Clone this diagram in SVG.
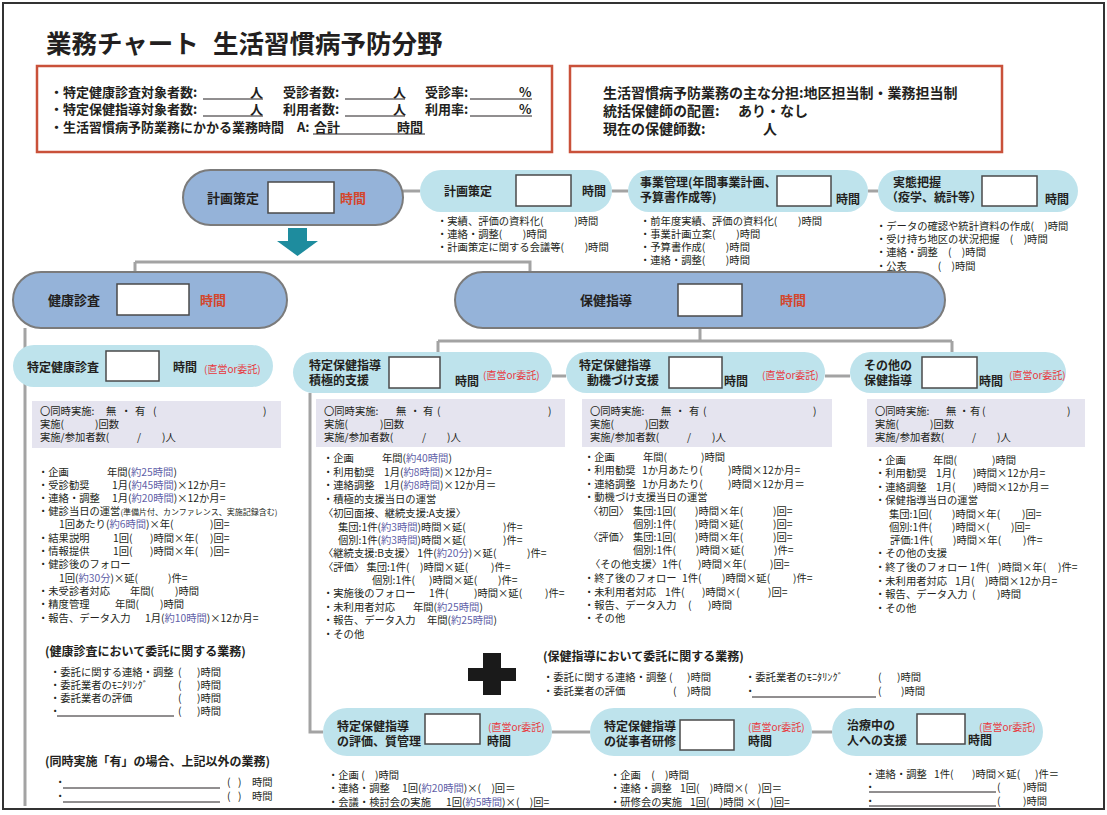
<svg xmlns="http://www.w3.org/2000/svg" width="1107" height="815" viewBox="0 0 1107 815">
<style>
text{font-family:"Noto Sans CJK JP","Noto Sans CJK SC",sans-serif;fill:#231f20;font-size:10.3px}
.b{font-weight:bold;font-size:12px}
.m{font-weight:bold;font-size:13px}
.red{fill:#d4462b}
.rs{fill:#e8383d;font-size:10px}
.bl{fill:#5f5fa8}
.sm{font-size:8px}
.main{fill:#95b3d9;stroke:#7b7b7b;stroke-width:2}
.sub{fill:#bee3ec}
.wb{fill:#fff;stroke:#4a4a4a;stroke-width:1.5}
.gb{fill:#e5e4ef}
.con{stroke:#a3a3a3;stroke-width:3;fill:none}
.ul{stroke:#231f20;stroke-width:1}
.rb{fill:#fff;stroke:#c9513a;stroke-width:2.5}
.i2{font-size:14px;font-weight:bold}
</style>
<rect x="0" y="0" width="1107" height="815" fill="#fff"/>
<rect x="3" y="3" width="1101" height="806" fill="none" stroke="#333" stroke-width="2"/>

<text x="46" y="53" style="font-size:25.5px;font-weight:bold">業務チャート<tspan x="213">生活習慣病予防分野</tspan></text>

<g id="info1">
<rect class="rb" x="37" y="66" width="515" height="86"/>
<text class="m" x="50" y="97">・特定健康診査対象者数:<tspan x="250">人</tspan><tspan x="283">受診者数:</tspan><tspan x="393">人</tspan><tspan x="425">受診率:</tspan><tspan x="519">%</tspan></text>
<text class="m" x="50" y="114">・特定保健指導対象者数:<tspan x="250">人</tspan><tspan x="283">利用者数:</tspan><tspan x="393">人</tspan><tspan x="425">利用率:</tspan><tspan x="519">%</tspan></text>
<text class="m" x="50" y="132">・生活習慣病予防業務にかかる業務時間　A:<tspan x="314">合計</tspan><tspan x="397">時間</tspan></text>
<path class="ul" d="M203 99H263M345 99H405M470 99H532M203 116H263M345 116H405M470 116H532M313 134H425"/>
</g>

<g id="info2">
<rect class="rb" x="570" y="66" width="432" height="86"/>
<text class="i2" x="603" y="98">生活習慣病予防業務の主な分担:地区担当制・業務担当制</text>
<text class="i2" x="603" y="116">統括保健師の配置:<tspan x="738">あり・なし</tspan></text>
<text class="i2" x="603" y="134">現在の保健師数:<tspan x="763">人</tspan></text>
</g>

<g id="connectors">
<path class="con" d="M403 191H420M612 191H628M868 191H878"/>
<path class="con" d="M135 262H530V272M135 262V272"/>
<path class="con" d="M25 328V806"/>
<path class="con" d="M700 328V341M438 341H952M438 341V352M952 341V352"/>
<path class="con" d="M552 376H566M825 376H850"/>
<path class="con" d="M310 393V732H323M552 732H590M812 732H832"/>
</g>

<g id="arrow">
<polygon points="288,228 307,228 307,241 318,241 297.5,256 277,241 288,241" fill="#1e8c9e"/>
</g>

<g id="plan-main">
<rect class="main" x="183" y="170" width="220" height="55" rx="27.5"/>
<text class="m" x="207" y="203">計画策定</text>
<rect class="wb" x="268" y="182" width="66" height="31"/>
<text class="m red" x="340" y="203">時間</text>
</g>

<g id="plan-sub">
<rect class="sub" x="420" y="170" width="192" height="42" rx="21"/>
<text class="b" x="444" y="196">計画策定</text>
<rect class="wb" x="516" y="175" width="55" height="31"/>
<text class="b" x="582" y="196">時間</text>
<text x="437" y="225">・実績、評価の資料化(　　　)時間</text>
<text x="437" y="238">・連絡・調整(　　)時間</text>
<text x="437" y="251">・計画策定に関する会議等(　　)時間</text>
</g>

<g id="jigyo">
<rect class="sub" x="628" y="170" width="240" height="42" rx="21"/>
<text class="b" x="640" y="187">事業管理(年間事業計画、</text>
<text class="b" x="640" y="202">予算書作成等)</text>
<rect class="wb" x="777" y="176" width="54" height="30"/>
<text class="b" x="836" y="204">時間</text>
<text x="640" y="225">・前年度実績、評価の資料化(　　)時間</text>
<text x="640" y="238">・事業計画立案(　　)時間</text>
<text x="640" y="251">・予算書作成(　　)時間</text>
<text x="640" y="264">・連絡・調整(　　)時間</text>
</g>

<g id="jittai">
<rect class="sub" x="878" y="170" width="200" height="42" rx="21"/>
<text class="b" x="893" y="187">実態把握</text>
<text class="b" x="886" y="202">（疫学、統計等）</text>
<rect class="wb" x="982" y="176" width="55" height="30"/>
<text class="b" x="1045" y="204">時間</text>
<text x="876" y="230">・データの確認や統計資料の作成(　)時間</text>
<text x="876" y="243">・受け持ち地区の状況把握　(　)時間</text>
<text x="876" y="256">・連絡・調整　(　)時間</text>
<text x="876" y="270">・公表　　　(　)時間</text>
</g>

<g id="kenshin-main">
<rect class="main" x="13" y="272" width="274" height="56" rx="28"/>
<text class="m" x="48" y="305">健康診査</text>
<rect class="wb" x="117" y="284" width="72" height="31"/>
<text class="m red" x="200" y="305">時間</text>
</g>

<g id="hoken-main">
<rect class="main" x="455" y="272" width="490" height="56" rx="28"/>
<text class="m" x="580" y="305">保健指導</text>
<rect class="wb" x="678" y="284" width="64" height="32"/>
<text class="m red" x="780" y="305">時間</text>
</g>

<g id="tokutei-kenshin">
<rect class="sub" x="13" y="345" width="260" height="42" rx="21"/>
<text class="b" x="27" y="372">特定健康診査</text>
<rect class="wb" x="106" y="351" width="53" height="30"/>
<text class="b" x="173" y="372">時間</text>
<text class="rs" x="204" y="373">(直営or委託)</text>
<rect class="gb" x="32" y="401" width="249" height="47"/>
<text x="40" y="415">〇同時実施:<tspan x="106">無</tspan><tspan x="121">・</tspan><tspan x="135">有</tspan><tspan x="153">(</tspan><tspan x="263">)</tspan></text>
<text x="40" y="428">実施(<tspan x="95">)回数</tspan></text>
<text x="40" y="441">実施/参加者数(<tspan x="137">/</tspan><tspan x="162">)人</tspan></text>
<text x="38" y="476">・企画<tspan x="107">年間(<tspan class="bl">約25時間</tspan>)</tspan></text>
<text x="38" y="489">・受診勧奨<tspan x="112">1月(<tspan class="bl">約45時間</tspan>)×12か月=</tspan></text>
<text x="38" y="502">・連絡・調整<tspan x="112">1月(<tspan class="bl">約20時間</tspan>)×12か月=</tspan></text>
<text x="38" y="515">・健診当日の運営<tspan class="sm">(準備片付、カンファレンス、実施記録含む)</tspan></text>
<text x="59" y="528">1回あたり(<tspan class="bl">約6時間</tspan>)×年(<tspan x="210">)回=</tspan></text>
<text x="38" y="542">・結果説明<tspan x="113">1回(</tspan><tspan x="150">)時間×年(</tspan><tspan x="210">)回=</tspan></text>
<text x="38" y="555">・情報提供<tspan x="113">1回(</tspan><tspan x="150">)時間×年(</tspan><tspan x="210">)回=</tspan></text>
<text x="38" y="568">・健診後のフォロー</text>
<text x="59" y="582">1回(<tspan class="bl">約30分</tspan>)×延(<tspan x="168">)件=</tspan></text>
<text x="38" y="595">・未受診者対応<tspan x="130">年間(</tspan><tspan x="175">)時間</tspan></text>
<text x="38" y="608">・精度管理<tspan x="115">年間(</tspan><tspan x="160">)時間</tspan></text>
<text x="38" y="622">・報告、データ入力<tspan x="145">1月(<tspan class="bl">約10時間</tspan>)×12か月=</tspan></text>
<text class="b" x="45" y="656">(健康診査において委託に関する業務)</text>
<text x="50" y="676">・委託に関する連絡・調整<tspan x="178">(</tspan><tspan x="197">)時間</tspan></text>
<text x="50" y="689">・委託業者のﾓﾆﾀﾘﾝｸﾞ<tspan x="178">(</tspan><tspan x="197">)時間</tspan></text>
<text x="50" y="702">・委託業者の評価<tspan x="178">(</tspan><tspan x="197">)時間</tspan></text>
<text x="50" y="715">・<tspan x="178">(</tspan><tspan x="197">)時間</tspan></text>
<path class="ul" d="M57 716H174"/>
<text class="b" x="45" y="766">(同時実施「有」の場合、上記以外の業務)</text>
<text x="55" y="786">・<tspan x="227">(</tspan><tspan x="238">)</tspan><tspan x="252">時間</tspan></text>
<text x="55" y="800">・<tspan x="227">(</tspan><tspan x="238">)</tspan><tspan x="252">時間</tspan></text>
<path class="ul" d="M63 788H220M63 802H220"/>
</g>

<g id="sekkyoku">
<rect class="sub" x="293" y="352" width="259" height="41" rx="20.5"/>
<text class="b" x="309" y="370">特定保健指導</text>
<text class="b" x="309" y="385">積極的支援</text>
<rect class="wb" x="389" y="357" width="51" height="31"/>
<text class="b" x="455" y="386">時間</text>
<text class="rs" x="483" y="379">(直営or委託)</text>
<rect class="gb" x="316" y="399" width="249" height="48"/>
<text x="324" y="415">〇同時実施:<tspan x="396">無</tspan><tspan x="410">・</tspan><tspan x="423">有</tspan><tspan x="437">(</tspan><tspan x="548">)</tspan></text>
<text x="324" y="428">実施(<tspan x="380">)回数</tspan></text>
<text x="324" y="441">実施/参加者数(<tspan x="422">/</tspan><tspan x="447">)人</tspan></text>
<text x="323" y="462">・企画<tspan x="382">年間(<tspan class="bl">約40時間</tspan>)</tspan></text>
<text x="323" y="476">・利用勧奨<tspan x="384">1月(<tspan class="bl">約8時間</tspan>)×12か月=</tspan></text>
<text x="323" y="489">・連絡調整<tspan x="384">1月(<tspan class="bl">約8時間</tspan>)×12か月＝</tspan></text>
<text x="323" y="503">・積極的支援当日の運営</text>
<text x="323" y="517">〈初回面接、継続支援:A支援〉</text>
<text x="338" y="531">集団:1件(<tspan class="bl">約3時間</tspan>)時間×延(<tspan x="503">)件=</tspan></text>
<text x="338" y="544">個別:1件(<tspan class="bl">約3時間</tspan>)時間×延(<tspan x="503">)件=</tspan></text>
<text x="323" y="557">〈継続支援:B支援〉 1件(<tspan class="bl">約20分</tspan>)×延(<tspan x="527">)件=</tspan></text>
<text x="323" y="571">〈評価〉 集団:1件(<tspan x="420">)時間×延(</tspan><tspan x="491">)件=</tspan></text>
<text x="372" y="584">個別:1件(<tspan x="429">)時間×延(</tspan><tspan x="498">)件=</tspan></text>
<text x="323" y="597">・実施後のフォロー<tspan x="429">1件(</tspan><tspan x="474">)時間×延(</tspan><tspan x="545">)件=</tspan></text>
<text x="323" y="611">・未利用者対応<tspan x="413">年間(<tspan class="bl">約25時間</tspan>)</tspan></text>
<text x="323" y="624">・報告、データ入力<tspan x="427">年間(<tspan class="bl">約25時間</tspan>)</tspan></text>
<text x="323" y="638">・その他</text>
</g>

<g id="doukiduke">
<rect class="sub" x="566" y="352" width="259" height="41" rx="20.5"/>
<text class="b" x="579" y="370">特定保健指導</text>
<text class="b" x="587" y="385">動機づけ支援</text>
<rect class="wb" x="669" y="357" width="53" height="31"/>
<text class="b" x="724" y="386">時間</text>
<text class="rs" x="762" y="379">(直営or委託)</text>
<rect class="gb" x="582" y="399" width="250" height="48"/>
<text x="590" y="415">〇同時実施:<tspan x="661">無</tspan><tspan x="675">・</tspan><tspan x="689">有</tspan><tspan x="703">(</tspan><tspan x="813">)</tspan></text>
<text x="590" y="428">実施(<tspan x="645">)回数</tspan></text>
<text x="590" y="441">実施/参加者数(<tspan x="687">/</tspan><tspan x="712">)人</tspan></text>
<text x="584" y="461">・企画<tspan x="643">年間(</tspan><tspan x="701">)時間</tspan></text>
<text x="584" y="474">・利用勧奨<tspan x="642">1か月あたり(</tspan><tspan x="728">)時間×12か月=</tspan></text>
<text x="584" y="488">・連絡調整<tspan x="642">1か月あたり(</tspan><tspan x="728">)時間×12か月＝</tspan></text>
<text x="584" y="501">・動機づけ支援当日の運営</text>
<text x="588" y="515">〈初回〉<tspan x="633">集団:1回(</tspan><tspan x="695">)時間×年(</tspan><tspan x="773">)回=</tspan></text>
<text x="633" y="528">個別:1件(<tspan x="695">)時間×延(</tspan><tspan x="773">)回=</tspan></text>
<text x="588" y="541">〈評価〉<tspan x="633">集団:1回(</tspan><tspan x="695">)時間×年(</tspan><tspan x="773">)回=</tspan></text>
<text x="633" y="554">個別:1件(<tspan x="696">)時間×延(</tspan><tspan x="774">)件=</tspan></text>
<text x="590" y="568">〈その他支援〉1件(<tspan x="698">)時間×年(</tspan><tspan x="770">)回=</tspan></text>
<text x="584" y="582">・終了後のフォロー<tspan x="682">1件(</tspan><tspan x="722">)時間×延(</tspan><tspan x="793">)件=</tspan></text>
<text x="584" y="596">・未利用者対応<tspan x="665">1件(</tspan><tspan x="702">)時間×(</tspan><tspan x="768">)回=</tspan></text>
<text x="584" y="609">・報告、データ入力<tspan x="688">(</tspan><tspan x="708">)時間</tspan></text>
<text x="584" y="622">・その他</text>
</g>

<g id="sonota">
<rect class="sub" x="850" y="352" width="216" height="41" rx="20.5"/>
<text class="b" x="864" y="370">その他の</text>
<text class="b" x="864" y="385">保健指導</text>
<rect class="wb" x="922" y="357" width="55" height="31"/>
<text class="b" x="979" y="386">時間</text>
<text class="rs" x="1009" y="379">(直営or委託)</text>
<rect class="gb" x="867" y="399" width="218" height="48"/>
<text x="875" y="415">〇同時実施:<tspan x="946">無</tspan><tspan x="959">・</tspan><tspan x="970">有</tspan><tspan x="982">(</tspan><tspan x="1067">)</tspan></text>
<text x="875" y="428">実施(<tspan x="930">)回数</tspan></text>
<text x="875" y="441">実施/参加者数(<tspan x="972">/</tspan><tspan x="997">)人</tspan></text>
<text x="875" y="464">・企画<tspan x="933">年間(</tspan><tspan x="992">)時間</tspan></text>
<text x="875" y="477">・利用勧奨<tspan x="936">1月(</tspan><tspan x="973">)時間×12か月=</tspan></text>
<text x="875" y="491">・連絡調整<tspan x="936">1月(</tspan><tspan x="973">)時間×12か月＝</tspan></text>
<text x="875" y="504">・保健指導当日の運営</text>
<text x="889" y="518">集団:1回(<tspan x="952">)時間×年(</tspan><tspan x="1022">)回=</tspan></text>
<text x="889" y="531">個別:1件(<tspan x="952">)時間×(</tspan><tspan x="1011">)回=</tspan></text>
<text x="890" y="544">評価:1件(<tspan x="953">)時間×年(</tspan><tspan x="1023">)件=</tspan></text>
<text x="875" y="557">・その他の支援</text>
<text x="875" y="571">・終了後のフォロー 1件(<tspan x="998">)時間×年(</tspan><tspan x="1058">)件=</tspan></text>
<text x="875" y="585">・未利用者対応<tspan x="955">1月(</tspan><tspan x="985">)時間×12か月=</tspan></text>
<text x="875" y="598">・報告、データ入力<tspan x="972">(</tspan><tspan x="997">)時間</tspan></text>
<text x="875" y="612">・その他</text>
</g>

<g id="plus">
<rect x="483" y="653" width="18" height="42" fill="#1a1a1a"/>
<rect x="468" y="668" width="48" height="13" fill="#1a1a1a"/>
</g>

<g id="itaku-hoken">
<text class="b" x="543" y="661">(保健指導において委託に関する業務)</text>
<text x="543" y="681">・委託に関する連絡・調整<tspan x="669">(</tspan><tspan x="687">)時間</tspan></text>
<text x="543" y="695">・委託業者の評価<tspan x="673">(</tspan><tspan x="687">)時間</tspan></text>
<text x="745" y="681">・委託業者のﾓﾆﾀﾘﾝｸﾞ<tspan x="878">(</tspan><tspan x="897">)時間</tspan></text>
<text x="745" y="695">・<tspan x="878">(</tspan><tspan x="901">)時間</tspan></text>
<path class="ul" d="M752 697H876"/>
</g>

<g id="hyouka">
<rect class="sub" x="323" y="708" width="229" height="48" rx="24"/>
<text class="b" x="337" y="731">特定保健指導</text>
<text class="b" x="337" y="746">の評価、質管理</text>
<rect class="wb" x="425" y="714" width="55" height="30"/>
<text class="rs" x="488" y="731">(直営or委託)</text>
<text class="b" x="487" y="746">時間</text>
<text x="328" y="779">・企画 (　)時間</text>
<text x="328" y="792">・連絡・調整<tspan x="402">1回(<tspan class="bl">約20時間</tspan>)×(　)回＝</tspan></text>
<text x="328" y="806">・会議・検討会の実施<tspan x="446">1回(<tspan class="bl">約5時間</tspan>)×(　)回=</tspan></text>
</g>

<g id="kenshu">
<rect class="sub" x="590" y="708" width="222" height="48" rx="24"/>
<text class="b" x="604" y="731">特定保健指導</text>
<text class="b" x="604" y="746">の従事者研修</text>
<rect class="wb" x="680" y="720" width="54" height="30"/>
<text class="rs" x="748" y="731">(直営or委託)</text>
<text class="b" x="748" y="746">時間</text>
<text x="610" y="779">・企画　(　)時間</text>
<text x="610" y="792">・連絡・調整<tspan x="680">1回(　)時間×(　)回＝</tspan></text>
<text x="610" y="806">・研修会の実施<tspan x="690">1回(　)時間 ×(　)回=</tspan></text>
</g>

<g id="chiryo">
<rect class="sub" x="832" y="708" width="211" height="48" rx="24"/>
<text class="b" x="847" y="730">治療中の</text>
<text class="b" x="847" y="745">人への支援</text>
<rect class="wb" x="917" y="714" width="48" height="30"/>
<text class="rs" x="979" y="731">(直営or委託)</text>
<text class="b" x="968" y="745">時間</text>
<text x="865" y="778">・連絡・調整<tspan x="934">1件(</tspan><tspan x="972">)時間×延(</tspan><tspan x="1035">)件＝</tspan></text>
<text x="865" y="791">・<tspan x="997">(</tspan><tspan x="1023">)時間</tspan></text>
<text x="865" y="805">・<tspan x="997">(</tspan><tspan x="1023">)時間</tspan></text>
<path class="ul" d="M869 792H996M869 806H996"/>
</g>
</svg>
